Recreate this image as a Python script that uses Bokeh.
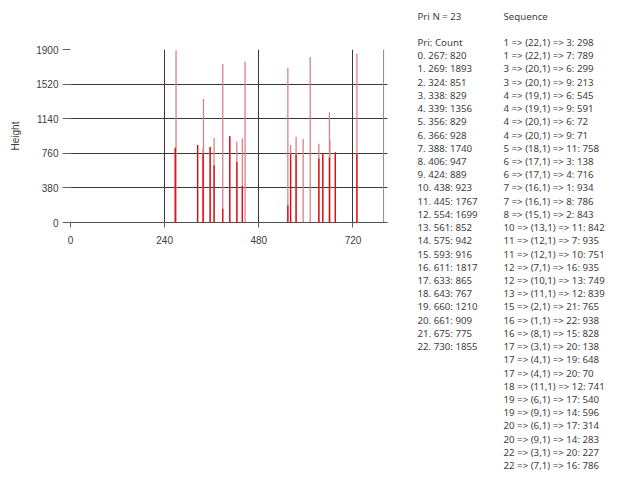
from bokeh.plotting import figure
from bokeh.models import Range1d, FixedTicker, ColumnDataSource, Span
from bokeh.layouts import row
from bokeh.core.properties import value
from bokeh.embed import file_html
from bokeh.resources import INLINE

# ---- data ----
pri_x = [267, 269, 324, 338, 339, 356, 366, 388, 406, 424, 438, 445,
         554, 561, 575, 593, 611, 633, 643, 660, 661, 675, 730]
pri_count = [820, 1893, 851, 829, 1356, 829, 928, 1740, 947, 889, 923, 1767,
             1699, 852, 942, 916, 1817, 865, 767, 1210, 909, 775, 1855]

# darker (overlapping) part of the lines
dark_x = [267, 324, 338, 356, 366, 388, 406, 424, 438, 554, 561, 575,
          633, 643, 660, 675, 730]
dark_h = [820, 851, 760, 829, 629, 150, 947, 665, 402, 190, 750, 750,
          702, 764, 713, 768, 755]

seq_lines = [
    "1 => (22,1) => 3: 298", "1 => (22,1) => 7: 789", "3 => (20,1) => 6: 299",
    "3 => (20,1) => 9: 213", "4 => (19,1) => 6: 545", "4 => (19,1) => 9: 591",
    "4 => (20,1) => 6: 72", "4 => (20,1) => 9: 71", "5 => (18,1) => 11: 758",
    "6 => (17,1) => 3: 138", "6 => (17,1) => 4: 716", "7 => (16,1) => 1: 934",
    "7 => (16,1) => 8: 786", "8 => (15,1) => 2: 843", "10 => (13,1) => 11: 842",
    "11 => (12,1) => 7: 935", "11 => (12,1) => 10: 751", "12 => (7,1) => 16: 935",
    "12 => (10,1) => 13: 749", "13 => (11,1) => 12: 839", "15 => (2,1) => 21: 765",
    "16 => (1,1) => 22: 938", "16 => (8,1) => 15: 828", "17 => (3,1) => 20: 138",
    "17 => (4,1) => 19: 648", "17 => (4,1) => 20: 70", "18 => (11,1) => 12: 741",
    "19 => (6,1) => 17: 540", "19 => (9,1) => 14: 596", "20 => (6,1) => 17: 314",
    "20 => (9,1) => 14: 283", "22 => (3,1) => 20: 227", "22 => (7,1) => 16: 786",
]

x_ticks = [0, 240, 480, 720]
y_ticks = [0, 380, 760, 1140, 1520, 1900]
x_axis_end = 798
x_view_end = 808

# ---- chart ----
CW, H = 400, 471
F_LEFT, F_TOP, F_BOTTOM, F_RIGHT = 70, 49, 222, 387

p = figure(width=CW, height=H, output_backend="svg", toolbar_location=None,
           x_range=Range1d(0, x_view_end), y_range=Range1d(0, 1900),
           min_border_left=F_LEFT, min_border_right=CW - F_RIGHT,
           min_border_top=F_TOP, min_border_bottom=H - F_BOTTOM)
p.frame_align = False
p.outline_line_color = None
p.background_fill_color = "white"
p.border_fill_color = "white"

p.xaxis.ticker = FixedTicker(ticks=x_ticks)
p.yaxis.ticker = FixedTicker(ticks=y_ticks)
for ax in (p.xaxis[0], p.yaxis[0]):
    ax.major_label_text_font = "Liberation Sans"
    ax.major_label_text_font_size = "10px"
    ax.major_label_text_color = "#404040"
    ax.major_tick_in = 0
    ax.minor_tick_line_color = None
    ax.major_tick_line_color = "#606060"
p.yaxis.major_tick_out = 8
p.xaxis.major_tick_out = 5
p.xaxis.axis_line_color = "#505050"
p.yaxis.axis_line_color = None
p.yaxis.axis_label = "Height"
p.yaxis.axis_label_text_font = "Liberation Sans"
p.yaxis.axis_label_text_font_size = "10px"
p.yaxis.axis_label_text_font_style = "normal"
p.yaxis.axis_label_text_color = "#404040"
p.yaxis.axis_label_standoff = 12
p.yaxis.major_label_standoff = 4
p.xaxis.major_label_standoff = 8

p.xgrid.ticker = FixedTicker(ticks=[240, 480, 720])
p.ygrid.ticker = FixedTicker(ticks=[380, 760, 1140, 1520, 1900])
p.xgrid.grid_line_color = "#383838"
p.ygrid.grid_line_color = "#383838"

p.add_layout(Span(location=x_axis_end, dimension="height",
                  line_color="#8c8c8c", line_width=1))

src = ColumnDataSource(dict(x=pri_x, y0=[0] * len(pri_x), y1=pri_count))
p.segment(x0="x", y0="y0", x1="x", y1="y1", source=src,
          line_color="#d9808a", line_width=1.3)
dsrc = ColumnDataSource(dict(x=dark_x, y0=[0] * len(dark_x), y1=dark_h))
p.segment(x0="x", y0="y0", x1="x", y1="y1", source=dsrc,
          line_color="#e00a0a", line_width=1.3)

# ---- text panel (data units = page pixels) ----
TW = 218
t = figure(width=TW, height=H, output_backend="svg", toolbar_location=None,
           x_range=Range1d(CW, CW + TW), y_range=Range1d(H, 0),
           min_border=0)
t.frame_align = False
t.axis.visible = False
t.grid.visible = False
t.outline_line_color = None

font = value("Noto Sans")
fs = "9.7px"
col = "#404040"
line_h = 13.22
y0 = 42


def add_text(xs, ys, texts):
    t.text(x=xs, y=ys, text=texts, text_font=font, text_font_size=fs,
           text_color=col, text_baseline="middle", text_align="left")


pri_lines = ["Pri: Count"] + [f"{i}. {x}: {c}" for i, (x, c) in enumerate(zip(pri_x, pri_count))]
add_text([417], [16], [f"Pri N = {len(pri_x)}"])
add_text([417] * len(pri_lines), [y0 + i * line_h for i in range(len(pri_lines))], pri_lines)
add_text([503], [16], ["Sequence"])
add_text([503] * len(seq_lines), [y0 + i * line_h for i in range(len(seq_lines))], seq_lines)

layout = row(p, t)
open("out.html", "w").write(file_html(layout, INLINE))
